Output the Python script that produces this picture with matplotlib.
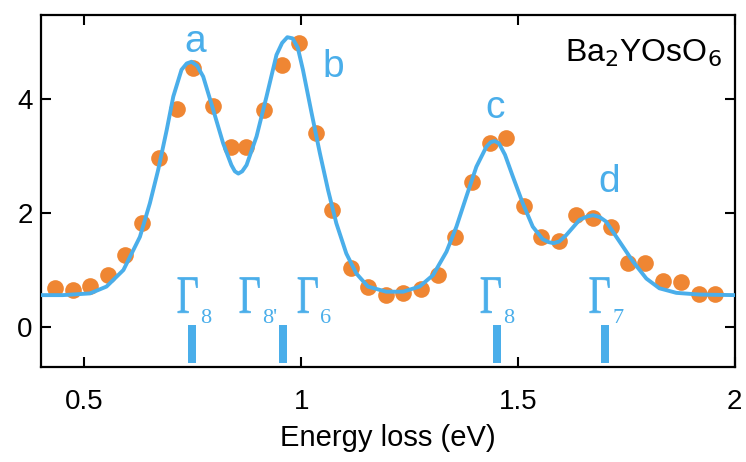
import matplotlib
matplotlib.use('Agg')
import matplotlib.pyplot as plt
from matplotlib.textpath import TextPath
from matplotlib.patches import PathPatch
from matplotlib.font_manager import FontProperties
from matplotlib.transforms import Affine2D, ScaledTranslation

# measured points (orange dots)
energy = [0.432, 0.474, 0.513, 0.555, 0.594, 0.632, 0.673, 0.713, 0.751, 0.796,
          0.837, 0.872, 0.914, 0.955, 0.995, 1.034, 1.072, 1.114, 1.154, 1.195,
          1.235, 1.277, 1.315, 1.354, 1.395, 1.436, 1.473, 1.513, 1.554, 1.594,
          1.634, 1.674, 1.715, 1.753, 1.794, 1.835, 1.876, 1.917, 1.955]
intensity = [0.68, 0.65, 0.72, 0.91, 1.26, 1.83, 2.96, 3.82, 4.54, 3.88,
             3.15, 3.15, 3.81, 4.60, 4.98, 3.41, 2.06, 1.03, 0.71, 0.56,
             0.59, 0.66, 0.91, 1.57, 2.55, 3.22, 3.31, 2.12, 1.57, 1.50,
             1.96, 1.91, 1.76, 1.13, 1.12, 0.81, 0.79, 0.58, 0.58]

# fit curve
fit_x = [0.40, 0.45, 0.513, 0.551, 0.59, 0.628, 0.651, 0.670, 0.690, 0.705,
         0.724, 0.736, 0.747, 0.760, 0.774, 0.797, 0.820, 0.839, 0.847, 0.855,
         0.864, 0.874, 0.897, 0.920, 0.943, 0.956, 0.968, 0.980, 0.992, 1.004,
         1.024, 1.043, 1.062, 1.081, 1.104, 1.127, 1.154, 1.196, 1.235, 1.273,
         1.304, 1.335, 1.358, 1.381, 1.404, 1.427, 1.437, 1.446, 1.456, 1.470,
         1.488, 1.511, 1.534, 1.557, 1.570, 1.582, 1.595, 1.611, 1.642, 1.660,
         1.673, 1.688, 1.703, 1.734, 1.765, 1.796, 1.826, 1.865, 1.918, 2.0]
fit_y = [0.56, 0.56, 0.59, 0.71, 1.00, 1.58, 2.17, 2.75, 3.46, 4.04,
         4.51, 4.62, 4.65, 4.58, 4.39, 3.81, 3.22, 2.84, 2.73, 2.69,
         2.73, 2.84, 3.34, 4.04, 4.77, 4.98, 5.08, 5.06, 4.90, 4.51,
         3.75, 3.05, 2.40, 1.82, 1.29, 0.94, 0.71, 0.62, 0.62, 0.71,
         0.91, 1.32, 1.76, 2.29, 2.81, 3.16, 3.24, 3.26, 3.22, 3.02,
         2.64, 2.17, 1.76, 1.54, 1.49, 1.47, 1.50, 1.61, 1.88, 1.94,
         1.96, 1.93, 1.85, 1.50, 1.15, 0.85, 0.68, 0.60, 0.57, 0.56]

# peak letters
peak_names = ['a', 'b', 'c', 'd']
peak_x = [0.755, 1.075, 1.446, 1.711]
peak_y = [4.82, 4.39, 3.67, 2.37]

# crystal field levels
level_x = [0.749, 0.958, 1.451, 1.700]
level_subs = ['8', "8'", '6', '8', '7']
level_label_x = [0.713, 0.856, 0.990, 1.412, 1.663]

blue = '#4AAEEA'
orange = '#EF8633'

fig = plt.figure(figsize=(7.46, 4.62), dpi=100)
ax = fig.add_axes([0.055, 0.2056, 0.93, 0.762])
ax.set_xlim(0.4, 2.0)
ax.set_ylim(-0.7, 5.47)

ax.plot(energy, intensity, 'o', color=orange, markersize=12, markeredgewidth=0, zorder=2)
ax.plot(fit_x, fit_y, '-', color=blue, linewidth=2.8, zorder=3)

ax.bar(level_x, [0.66] * len(level_x), bottom=-0.63, width=0.018, color=blue, zorder=2)

# Gamma glyph is tall and narrow in the original, so draw it as a stretched path
gamma = TextPath((0, 0), '\u0393', size=1, prop=FontProperties(family='Liberation Serif'))
for lx, sub in zip(level_label_x, level_subs):
    tr = Affine2D().scale(38, 54) + ScaledTranslation(lx, 0.25, ax.transData)
    ax.add_patch(PathPatch(gamma, transform=tr, facecolor=blue, edgecolor=blue,
                           lw=0.5, zorder=4))
    ax.text(lx + 0.054, 0.07, sub, fontsize=16, family='Liberation Serif', color=blue,
            ha='left', va='baseline')

for name, px, py in zip(peak_names, peak_x, peak_y):
    ax.text(px, py, name, fontsize=28, family='Liberation Sans', color=blue,
            ha='center', va='baseline')

ax.text(1.971, 4.65, 'Ba$_2$YOsO$_6$', fontsize=23, family='Liberation Sans',
        ha='right', va='baseline')

ax.set_xticks([0.5, 1, 1.5, 2])
ax.set_xticklabels(['0.5', '1', '1.5', '2'])
ax.set_yticks([0, 2, 4])
ax.set_yticklabels(['0', '2', '4'])
ax.tick_params(direction='in', length=7, width=1.5, top=True, right=True,
               labelsize=20)
ax.tick_params(axis='x', pad=16)
ax.tick_params(axis='y', pad=6)
for lab in ax.get_xticklabels() + ax.get_yticklabels():
    lab.set_family('Liberation Sans')
for s in ax.spines.values():
    s.set_linewidth(1.6)

ax.set_xlabel('Energy loss (eV)', fontsize=21, family='Liberation Sans', labelpad=6)

fig.savefig('out.png', dpi=100)
